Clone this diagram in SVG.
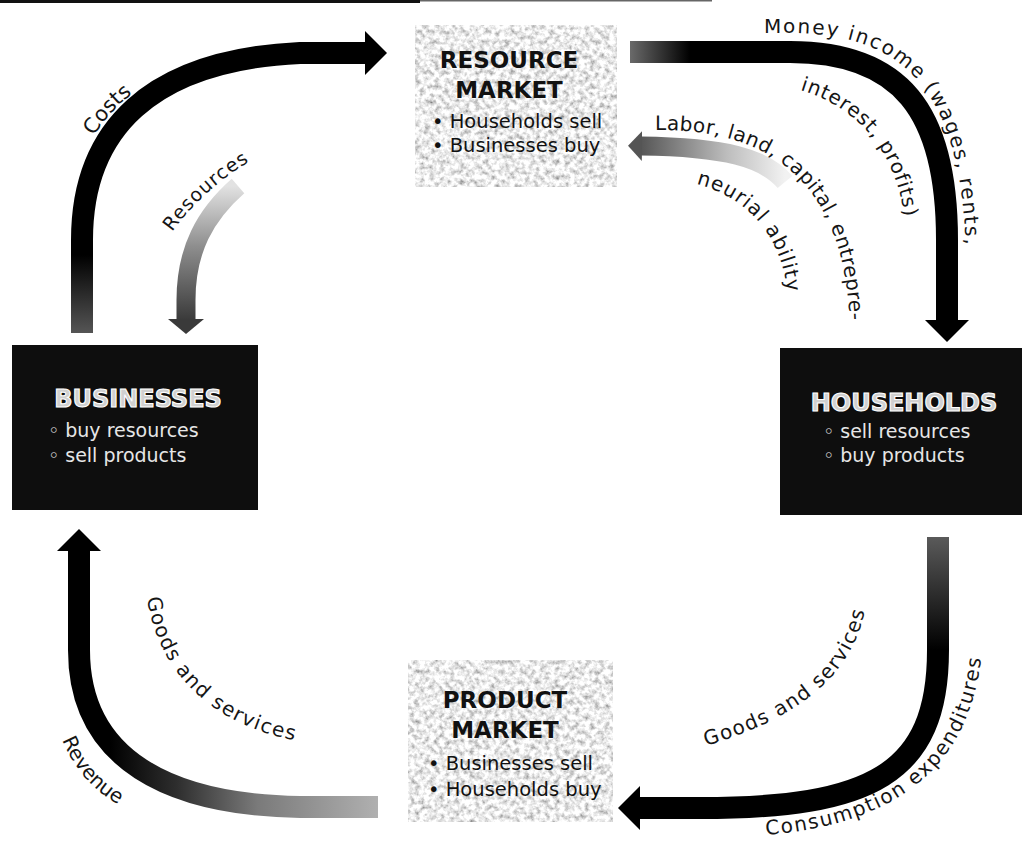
<svg xmlns="http://www.w3.org/2000/svg" width="1022" height="842" viewBox="0 0 1022 842">
<defs>
<style>
.lbl{font-family:"DejaVu Sans","Liberation Sans",sans-serif;font-size:20px;fill:#151515}
.hd{font-family:"DejaVu Sans","Liberation Sans",sans-serif;font-weight:bold;font-size:23px;fill:#111;text-anchor:middle}
.it{font-family:"DejaVu Sans","Liberation Sans",sans-serif;font-size:19.5px;fill:#111}
.hdw{font-family:"DejaVu Sans","Liberation Sans",sans-serif;font-weight:bold;font-size:24px;fill:#d0d0d0;stroke:#fff;stroke-width:1.1;text-anchor:middle}
.itw{font-family:"DejaVu Sans","Liberation Sans",sans-serif;font-size:19px;fill:#e6e6e6}
.arr{fill:none;stroke-width:22}
.garr{fill:none;stroke-width:19}
.gbox{fill:#d2d2d2}
.bbox{fill:#0e0e0e}
</style>
<filter id="speckle" x="0" y="0" width="100%" height="100%">
<feTurbulence type="fractalNoise" baseFrequency="0.2" numOctaves="3" seed="7" result="n"/>
<feColorMatrix in="n" type="matrix" values="1.4 0 0 0 0.13  1.4 0 0 0 0.13  1.4 0 0 0 0.13  0 0 0 0 1" result="g"/>
<feComposite in="g" in2="SourceGraphic" operator="in"/>
</filter>
<marker id="hB" markerUnits="userSpaceOnUse" viewBox="0 0 24 46" markerWidth="24" markerHeight="46" refX="1" refY="23" orient="auto">
<path d="M0 1 L22 23 L0 45 Z" fill="#000"/>
</marker>
<marker id="hRes" markerUnits="userSpaceOnUse" viewBox="0 0 16 38" markerWidth="16" markerHeight="38" refX="1" refY="19" orient="auto">
<path d="M0 1 L15 19 L0 37 Z" fill="#3a3a3a"/>
</marker>
<marker id="hLab" markerUnits="userSpaceOnUse" viewBox="0 0 16 32" markerWidth="16" markerHeight="32" refX="1" refY="16" orient="auto">
<path d="M0 1 L14 16 L0 31 Z" fill="#555"/>
</marker>
<linearGradient id="gCosts" gradientUnits="userSpaceOnUse" x1="0" y1="333" x2="0" y2="255">
<stop offset="0" stop-color="#555"/><stop offset="1" stop-color="#000"/>
</linearGradient>
<linearGradient id="gMoney" gradientUnits="userSpaceOnUse" x1="630" y1="0" x2="690" y2="0">
<stop offset="0" stop-color="#6a6a6a"/><stop offset="1" stop-color="#000"/>
</linearGradient>
<linearGradient id="gCons" gradientUnits="userSpaceOnUse" x1="0" y1="537" x2="0" y2="650">
<stop offset="0" stop-color="#5a5a5a"/><stop offset="1" stop-color="#000"/>
</linearGradient>
<linearGradient id="gRev" gradientUnits="userSpaceOnUse" x1="378" y1="0" x2="110" y2="0">
<stop offset="0" stop-color="#b0b0b0"/><stop offset="0.45" stop-color="#7a7a7a"/><stop offset="0.75" stop-color="#2e2e2e"/><stop offset="1" stop-color="#000"/>
</linearGradient>
<linearGradient id="gRes" gradientUnits="userSpaceOnUse" x1="0" y1="186" x2="0" y2="320">
<stop offset="0" stop-color="#e2e2e2"/><stop offset="0.45" stop-color="#8e8e8e"/><stop offset="1" stop-color="#3a3a3a"/>
</linearGradient>
<linearGradient id="gLab" gradientUnits="userSpaceOnUse" x1="785" y1="0" x2="640" y2="0">
<stop offset="0" stop-color="#f2f2f2"/><stop offset="0.4" stop-color="#bdbdbd"/><stop offset="1" stop-color="#555"/>
</linearGradient>
<path id="tCosts" d="M 94 136 Q 112 106 148 82"/>
<path id="tRes" d="M 172 232 Q 205 186 262 154"/>
<path id="tMoney" d="M 764 33 L 790 33 C 912 33, 966 100, 966 270"/>
<path id="tInterest" d="M 800 90 C 854 106, 899 148, 906 230"/>
<path id="tLabor" d="M 655 130 C 780 128, 850 192, 850 340"/>
<path id="tNeurial" d="M 696 184 C 748 197, 782 237, 787 292"/>
<path id="tCons" d="M 766 835 C 895 824, 983 768, 983 622"/>
<path id="tGoodsR" d="M 706 746 C 790 720, 860 680, 868 590"/>
<path id="tRevenue" d="M 62 740 C 75 770, 95 795, 130 810"/>
<path id="tGoodsL" d="M 147 598 C 160 680, 220 730, 310 743"/>
</defs>

<rect x="0" y="0" width="1022" height="842" fill="#fff"/>
<rect x="0" y="0" width="420" height="3" fill="#111"/>
<rect x="420" y="0" width="292" height="1.5" fill="#666"/>

<g id="resource-market">
<rect class="gbox" x="415" y="25" width="202" height="162" filter="url(#speckle)"/>
<text class="hd" x="509" y="68">RESOURCE</text>
<text class="hd" x="509" y="98">MARKET</text>
<text class="it" x="432" y="128">• Households sell</text>
<text class="it" x="432" y="152">• Businesses buy</text>
</g>

<g id="product-market">
<rect class="gbox" x="408" y="660" width="205" height="162" filter="url(#speckle)"/>
<text class="hd" x="505" y="708">PRODUCT</text>
<text class="hd" x="505" y="738">MARKET</text>
<text class="it" x="428" y="770">• Businesses sell</text>
<text class="it" x="428" y="796">• Households buy</text>
</g>

<g id="businesses">
<rect class="bbox" x="12" y="345" width="246" height="165"/>
<text class="hdw" x="138" y="407">BUSINESSES</text>
<text class="itw" x="48" y="437">◦ buy resources</text>
<text class="itw" x="48" y="462">◦ sell products</text>
</g>

<g id="households">
<rect class="bbox" x="780" y="348" width="242" height="167"/>
<text class="hdw" x="904" y="411">HOUSEHOLDS</text>
<text class="itw" x="823" y="438">◦ sell resources</text>
<text class="itw" x="823" y="462">◦ buy products</text>
</g>

<g id="connectors">
<path class="arr" stroke="url(#gCosts)" marker-end="url(#hB)" d="M 82 333 L 82 240 C 82 130, 150 60, 300 53 L 366 53"/>
<path class="garr" stroke="url(#gRes)" marker-end="url(#hRes)" d="M 238 186 C 205 215, 186 250, 186 300 L 186 320"/>
<path class="arr" stroke="url(#gMoney)" marker-end="url(#hB)" d="M 630 52 L 790 52 C 900 52, 947 110, 947 240 L 947 321"/>
<path class="garr" stroke="url(#gLab)" marker-end="url(#hLab)" d="M 785 182 C 765 158, 725 147, 641 146"/>
<path class="arr" stroke="url(#gCons)" marker-end="url(#hB)" d="M 938 537 L 938 650 C 938 775, 870 808, 700 808 L 639 808"/>
<path class="arr" stroke="url(#gRev)" marker-end="url(#hB)" d="M 378 807 L 300 807 C 170 805, 79 760, 79 650 L 79 550"/>
</g>

<g id="labels">
<text class="lbl" style="font-size:21px"><textPath href="#tCosts">Costs</textPath></text>
<text class="lbl" style="font-size:19px" letter-spacing="1"><textPath href="#tRes">Resources</textPath></text>
<text class="lbl" letter-spacing="1.8"><textPath href="#tMoney">Money income (wages, rents,</textPath></text>
<text class="lbl" letter-spacing="0.8"><textPath href="#tInterest">interest, profits)</textPath></text>
<text class="lbl" letter-spacing="0.4"><textPath href="#tLabor">Labor, land, capital, entrepre-</textPath></text>
<text class="lbl" letter-spacing="1"><textPath href="#tNeurial">neurial ability</textPath></text>
<text class="lbl" letter-spacing="1.6"><textPath href="#tCons">Consumption expenditures</textPath></text>
<text class="lbl" letter-spacing="1.4"><textPath href="#tGoodsR">Goods and services</textPath></text>
<text class="lbl"><textPath href="#tRevenue">Revenue</textPath></text>
<text class="lbl" letter-spacing="1.4"><textPath href="#tGoodsL">Goods and services</textPath></text>
</g>
</svg>
